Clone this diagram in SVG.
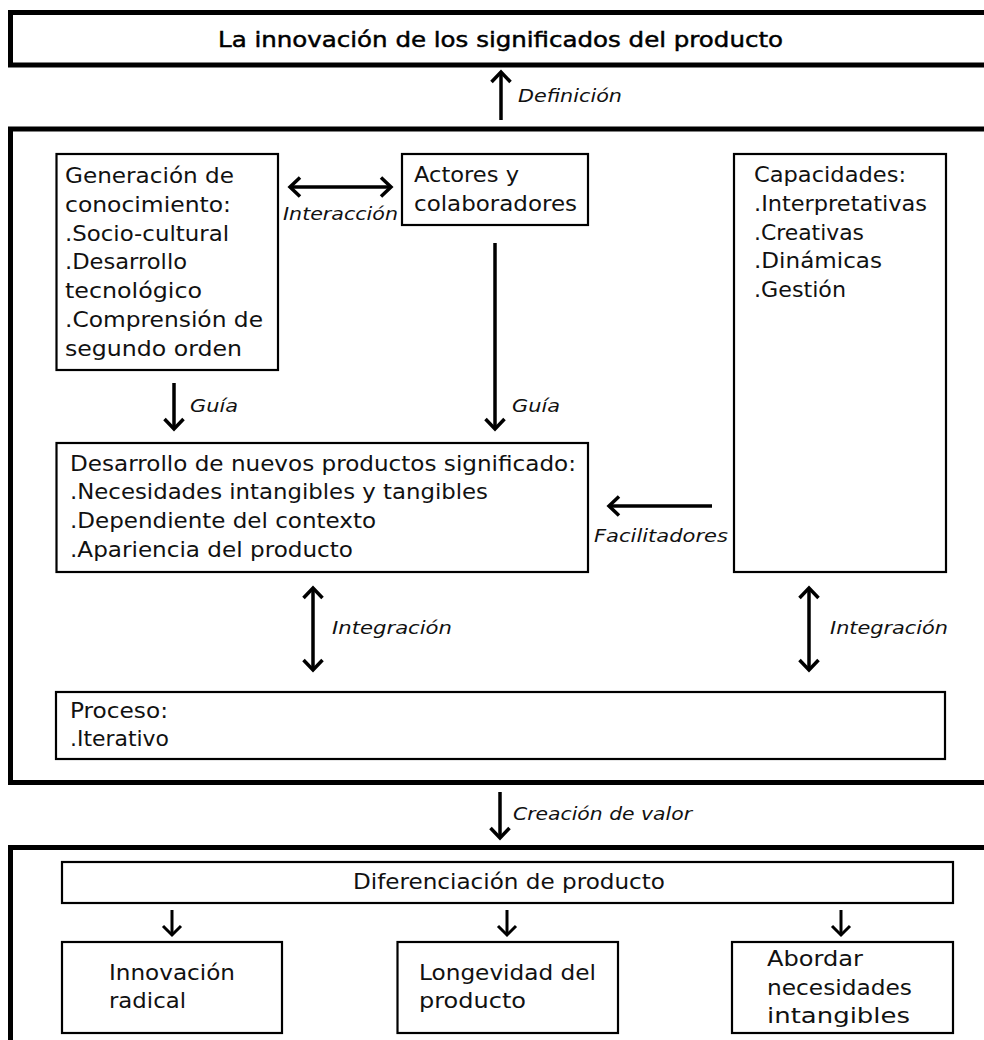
<svg xmlns="http://www.w3.org/2000/svg" width="984" height="1040" viewBox="0 0 984 1040">
  <style>
    .frame { fill: none; stroke: #000; stroke-width: 5; }
    .box { fill: #fff; stroke: #000; stroke-width: 2.2; }
    .t { font-family: "DejaVu Sans", "Liberation Sans", sans-serif; font-size: 21px; fill: #111; }
    .title { font-family: "DejaVu Sans", "Liberation Sans", sans-serif; font-size: 20.5px; fill: #000; stroke: #000; stroke-width: 0.45; }
    .lbl { font-family: "DejaVu Sans", "Liberation Sans", sans-serif; font-style: italic; font-size: 17px; fill: #111; }
    .arrow { fill: none; stroke: #000; stroke-width: 3.5; }
    .arrow-s { fill: none; stroke: #000; stroke-width: 3; }
  </style>
  <defs>
    <marker id="head" markerUnits="userSpaceOnUse" markerWidth="30" markerHeight="30" refX="0" refY="0" viewBox="-15 -15 30 30" orient="auto-start-reverse" overflow="visible">
      <path d="M -10 -9.5 L 0 0 L -10 9.5" fill="none" stroke="#000" stroke-width="3.5" stroke-linejoin="miter"/>
    </marker>
    <marker id="head-s" markerUnits="userSpaceOnUse" markerWidth="30" markerHeight="30" refX="0" refY="0" viewBox="-15 -15 30 30" orient="auto-start-reverse" overflow="visible">
      <path d="M -9 -9 L 0 0 L -9 9" fill="none" stroke="#000" stroke-width="3" stroke-linejoin="miter"/>
    </marker>
  </defs>

  <rect width="984" height="1040" fill="#fff"/>

  <!-- outer frames -->
  <g id="frame-top">
    <rect class="frame" x="10.5" y="12.5" width="990" height="52.5"/>
    <text class="title" x="218" y="47" textLength="565" lengthAdjust="spacingAndGlyphs">La innovación de los significados del producto</text>
  </g>
  <g id="frame-middle">
    <rect class="frame" x="10.5" y="129" width="990" height="653.5"/>
  </g>
  <g id="frame-bottom">
    <rect class="frame" x="10.5" y="847.5" width="990" height="220"/>
  </g>

  <!-- nodes inside the middle frame -->
  <g id="generacion">
    <rect class="box" x="56.5" y="154" width="221.5" height="216"/>
    <text class="t" x="65" y="183" textLength="169" lengthAdjust="spacingAndGlyphs">Generación de</text>
    <text class="t" x="65" y="212" textLength="166" lengthAdjust="spacingAndGlyphs">conocimiento:</text>
    <text class="t" x="65" y="241" textLength="164" lengthAdjust="spacingAndGlyphs">.Socio-cultural</text>
    <text class="t" x="65" y="269" textLength="122" lengthAdjust="spacingAndGlyphs">.Desarrollo</text>
    <text class="t" x="65" y="298" textLength="137" lengthAdjust="spacingAndGlyphs">tecnológico</text>
    <text class="t" x="65" y="327" textLength="198" lengthAdjust="spacingAndGlyphs">.Comprensión de</text>
    <text class="t" x="65" y="356" textLength="177" lengthAdjust="spacingAndGlyphs">segundo orden</text>
  </g>

  <g id="actores">
    <rect class="box" x="402" y="154" width="186" height="71"/>
    <text class="t" x="414" y="182" textLength="105" lengthAdjust="spacingAndGlyphs">Actores y</text>
    <text class="t" x="414" y="211" textLength="163" lengthAdjust="spacingAndGlyphs">colaboradores</text>
  </g>

  <g id="capacidades">
    <rect class="box" x="734" y="154" width="212" height="418"/>
    <text class="t" x="754" y="182" textLength="152" lengthAdjust="spacingAndGlyphs">Capacidades:</text>
    <text class="t" x="754" y="211" textLength="173" lengthAdjust="spacingAndGlyphs">.Interpretativas</text>
    <text class="t" x="754" y="240" textLength="110" lengthAdjust="spacingAndGlyphs">.Creativas</text>
    <text class="t" x="754" y="268" textLength="128" lengthAdjust="spacingAndGlyphs">.Dinámicas</text>
    <text class="t" x="754" y="297" textLength="92" lengthAdjust="spacingAndGlyphs">.Gestión</text>
  </g>

  <g id="desarrollo">
    <rect class="box" x="56.5" y="443" width="531.5" height="129"/>
    <text class="t" x="70" y="471" textLength="506" lengthAdjust="spacingAndGlyphs">Desarrollo de nuevos productos significado:</text>
    <text class="t" x="70" y="499" textLength="418" lengthAdjust="spacingAndGlyphs">.Necesidades intangibles y tangibles</text>
    <text class="t" x="70" y="528" textLength="306" lengthAdjust="spacingAndGlyphs">.Dependiente del contexto</text>
    <text class="t" x="70" y="557" textLength="283" lengthAdjust="spacingAndGlyphs">.Apariencia del producto</text>
  </g>

  <g id="proceso">
    <rect class="box" x="56" y="692" width="889" height="67"/>
    <text class="t" x="70" y="718" textLength="98" lengthAdjust="spacingAndGlyphs">Proceso:</text>
    <text class="t" x="70" y="746" textLength="99" lengthAdjust="spacingAndGlyphs">.Iterativo</text>
  </g>

  <!-- nodes inside the bottom frame -->
  <g id="diferenciacion">
    <rect class="box" x="62" y="862" width="891" height="41"/>
    <text class="t" x="353" y="889" textLength="312" lengthAdjust="spacingAndGlyphs">Diferenciación de producto</text>
  </g>

  <g id="innovacion-radical">
    <rect class="box" x="62" y="942" width="220" height="91"/>
    <text class="t" x="109" y="980" textLength="126" lengthAdjust="spacingAndGlyphs">Innovación</text>
    <text class="t" x="109" y="1008" textLength="77" lengthAdjust="spacingAndGlyphs">radical</text>
  </g>

  <g id="longevidad">
    <rect class="box" x="397.5" y="942" width="220.5" height="91"/>
    <text class="t" x="419" y="980" textLength="177" lengthAdjust="spacingAndGlyphs">Longevidad del</text>
    <text class="t" x="419" y="1008" textLength="107" lengthAdjust="spacingAndGlyphs">producto</text>
  </g>

  <g id="abordar">
    <rect class="box" x="732" y="942" width="221" height="91"/>
    <text class="t" x="767" y="966" textLength="96" lengthAdjust="spacingAndGlyphs">Abordar</text>
    <text class="t" x="767" y="995" textLength="145" lengthAdjust="spacingAndGlyphs">necesidades</text>
    <text class="t" x="767" y="1023" textLength="143" lengthAdjust="spacingAndGlyphs">intangibles</text>
  </g>

  <!-- connectors and their labels -->
  <g id="connectors">
    <line class="arrow" x1="501" y1="120" x2="501" y2="72" marker-end="url(#head)"/>
    <text class="lbl" x="518" y="102" textLength="104" lengthAdjust="spacingAndGlyphs">Definición</text>

    <line class="arrow" x1="290" y1="187" x2="391" y2="187" marker-start="url(#head)" marker-end="url(#head)"/>
    <text class="lbl" x="283" y="220" textLength="115" lengthAdjust="spacingAndGlyphs">Interacción</text>

    <line class="arrow" x1="174" y1="383" x2="174" y2="429" marker-end="url(#head)"/>
    <text class="lbl" x="190" y="412" textLength="48" lengthAdjust="spacingAndGlyphs">Guía</text>

    <line class="arrow" x1="495" y1="243" x2="495" y2="429" marker-end="url(#head)"/>
    <text class="lbl" x="512" y="412" textLength="48" lengthAdjust="spacingAndGlyphs">Guía</text>

    <line class="arrow" x1="712" y1="506" x2="609" y2="506" marker-end="url(#head)"/>
    <text class="lbl" x="594" y="542" textLength="134" lengthAdjust="spacingAndGlyphs">Facilitadores</text>

    <line class="arrow" x1="313" y1="588" x2="313" y2="670" marker-start="url(#head)" marker-end="url(#head)"/>
    <text class="lbl" x="332" y="634" textLength="120" lengthAdjust="spacingAndGlyphs">Integración</text>

    <line class="arrow" x1="809" y1="588" x2="809" y2="670" marker-start="url(#head)" marker-end="url(#head)"/>
    <text class="lbl" x="830" y="634" textLength="118" lengthAdjust="spacingAndGlyphs">Integración</text>

    <line class="arrow" x1="500" y1="792" x2="500" y2="838" marker-end="url(#head)"/>
    <text class="lbl" x="513" y="820" textLength="179" lengthAdjust="spacingAndGlyphs">Creación de valor</text>

    <line class="arrow-s" x1="172" y1="910" x2="172" y2="935" marker-end="url(#head-s)"/>
    <line class="arrow-s" x1="507" y1="910" x2="507" y2="935" marker-end="url(#head-s)"/>
    <line class="arrow-s" x1="841" y1="910" x2="841" y2="935" marker-end="url(#head-s)"/>
  </g>
</svg>
